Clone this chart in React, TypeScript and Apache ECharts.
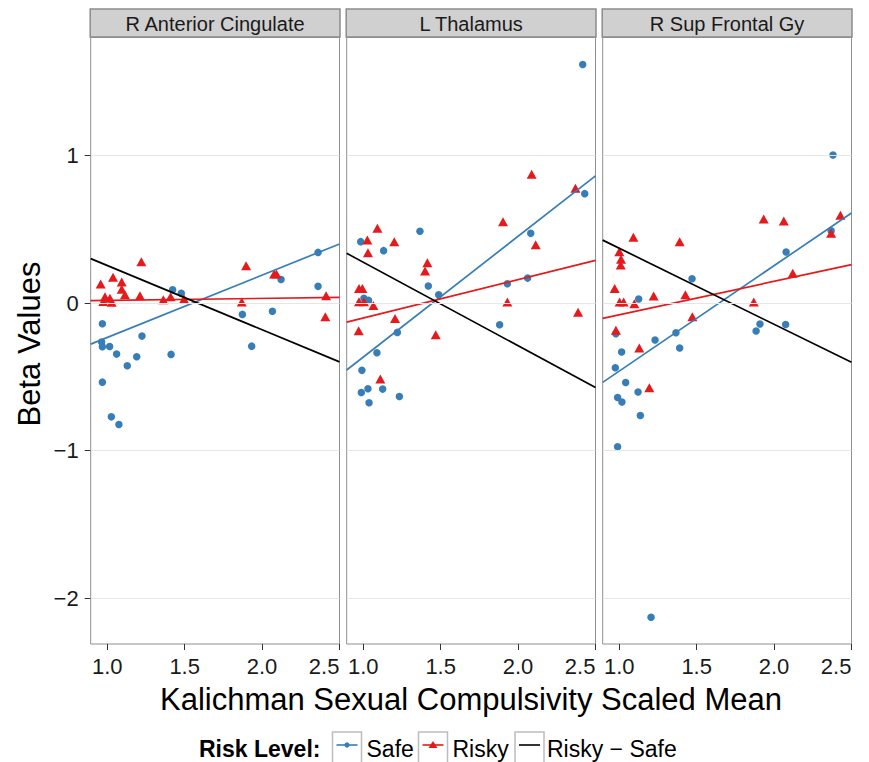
import React, { useEffect, useRef } from 'react';
import * as echarts from 'echarts';

const PANELS = ['R Anterior Cingulate', 'L Thalamus', 'R Sup Frontal Gy'];
const X_TICKS = [1.0, 1.5, 2.0, 2.5];
const Y_TICKS = [-2, -1, 0, 1];
const X_RANGE = [0.8926, 2.5006];
const Y_RANGE = [-2.31, 1.799];
const LEGEND_LABELS = ['Safe', 'Risky', 'Risky − Safe'];

// Panel 1: R Anterior Cingulate
const safeX1 = [2.362, 2.123, 2.362, 2.067, 1.873, 1.933, 1.422, 1.478, 0.968, 0.963, 0.968, 1.015, 1.06, 1.224, 1.19, 1.129, 1.412, 0.968, 1.026, 1.075];
const safeY1 = [0.343, 0.16, 0.113, -0.056, -0.077, -0.292, 0.09, 0.066, -0.14, -0.264, -0.296, -0.294, -0.346, -0.224, -0.364, -0.425, -0.348, -0.536, -0.771, -0.823];
const riskyX1 = [1.22, 1.897, 2.078, 2.093, 1.869, 2.414, 2.409, 0.957, 1.037, 1.093, 1.093, 1.114, 0.985, 1.017, 0.974, 1.028, 1.211, 1.362, 1.409, 1.496];
const riskyY1 = [0.28, 0.253, 0.197, 0.197, 0.007, 0.05, -0.093, 0.129, 0.174, 0.142, 0.093, 0.056, 0.043, 0.032, 0.011, 0.005, 0.05, 0.023, 0.043, 0.027];

// Panel 2: L Thalamus
const safeX2 = [2.418, 2.431, 2.082, 2.062, 1.931, 1.881, 1.366, 1.131, 0.983, 1.42, 1.487, 1.004, 1.034, 1.22, 1.088, 0.991, 0.987, 1.03, 1.125, 1.037, 1.233];
const safeY2 = [1.616, 0.741, 0.472, 0.169, 0.131, -0.147, 0.486, 0.355, 0.416, 0.115, 0.056, 0.032, 0.018, -0.199, -0.337, -0.456, -0.606, -0.581, -0.583, -0.676, -0.633];
const riskyX2 = [2.088, 2.371, 1.903, 2.114, 1.931, 2.388, 1.091, 1.026, 1.2, 1.03, 1.414, 1.399, 0.972, 0.994, 0.972, 1.004, 1.065, 1.205, 0.97, 1.468, 1.11];
const riskyY2 = [0.872, 0.777, 0.551, 0.395, 0.007, -0.063, 0.506, 0.427, 0.416, 0.341, 0.273, 0.217, 0.099, 0.099, 0.009, 0.009, -0.016, -0.104, -0.188, -0.215, -0.515];

// Panel 3: R Sup Frontal Gy
const safeX3 = [2.381, 2.369, 2.078, 1.47, 1.125, 1.366, 1.231, 1.39, 1.909, 1.884, 2.075, 0.978, 1.015, 0.974, 1.041, 1.121, 0.989, 1.017, 1.136, 0.989, 1.205];
const safeY3 = [1.003, 0.49, 0.346, 0.165, 0.027, -0.201, -0.251, -0.305, -0.142, -0.19, -0.145, -0.208, -0.332, -0.438, -0.538, -0.603, -0.64, -0.671, -0.762, -0.974, -2.129];
const riskyX3 = [1.933, 2.063, 2.429, 2.369, 2.121, 1.869, 1.091, 1.39, 1.0, 1.011, 1.009, 0.97, 1.002, 1.028, 1.097, 1.222, 1.427, 1.472, 0.978, 1.129, 1.194];
const riskyY3 = [0.569, 0.556, 0.594, 0.472, 0.201, 0.007, 0.445, 0.416, 0.348, 0.296, 0.258, 0.099, 0.007, 0.007, -0.005, 0.047, 0.056, -0.093, -0.185, -0.305, -0.574];

// Fitted lines: [intercept, slope] per panel
const safeFit = [[-0.655, 0.422], [-1.184, 0.818], [-1.175, 0.714]];
const riskyFit = [[0.004, 0.0137], [-0.361, 0.26], [-0.307, 0.227]];
const diffFit = [[0.689, -0.435], [0.841, -0.565], [0.886, -0.515]];

const SAFE_X = [safeX1, safeX2, safeX3];
const SAFE_Y = [safeY1, safeY2, safeY3];
const RISKY_X = [riskyX1, riskyX2, riskyX3];
const RISKY_Y = [riskyY1, riskyY2, riskyY3];

const BLUE = '#377EB8';
const RED = '#E41A1C';
const FONT = '"Liberation Sans", Arial, Helvetica, sans-serif';
const PANEL_LEFT = [90.7, 346.7, 602.7];
const PANEL_W = 248.8;
const PANEL_TOP = 37.5;
const PANEL_H = 606.5;

const zip = (xs: number[], ys: number[]) => xs.map((x, i) => [x, ys[i]]);
const fitLine = (f: number[]) => X_RANGE.map((x) => [x, f[0] + f[1] * x]);
const fmtY = (v: number) => (v < 0 ? '\u2212' + Math.abs(v) : String(v));

export default function App() {
  const ref = useRef<HTMLDivElement>(null);
  useEffect(() => {
    if (!ref.current) return;
    const chart = echarts.init(ref.current, undefined, { renderer: 'svg' });

    const grids = PANELS.map((_, i) => ({
      left: PANEL_LEFT[i],
      top: PANEL_TOP,
      width: PANEL_W,
      height: PANEL_H,
      show: true,
      borderColor: '#8f8f8f',
      borderWidth: 1,
      backgroundColor: 'transparent',
      containLabel: false,
      outerBoundsMode: 'none',
    }));

    const xAxes = PANELS.map((_, i) => ({
      type: 'value',
      gridIndex: i,
      position: 'bottom',
      min: X_RANGE[0],
      max: X_RANGE[1],
      axisLine: { show: false, onZero: false },
      splitLine: { show: false },
      axisTick: { show: true, customValues: X_TICKS, length: 6, lineStyle: { color: '#333', width: 1 } },
      axisLabel: {
        show: true,
        customValues: X_TICKS,
        formatter: (v: number) => v.toFixed(1),
        fontSize: 22,
        fontFamily: FONT,
        color: '#1a1a1a',
        margin: 11,
        alignMaxLabel: 'right',
      },
    }));

    const yAxes = PANELS.map((_, i) => ({
      type: 'value',
      gridIndex: i,
      position: 'left',
      min: Y_RANGE[0],
      max: Y_RANGE[1],
      axisLine: { show: false, onZero: false },
      splitLine: { show: false },
      axisTick: { show: i === 0, customValues: Y_TICKS, length: 6, lineStyle: { color: '#333', width: 1 } },
      axisLabel: {
        show: i === 0,
        customValues: Y_TICKS,
        formatter: fmtY,
        fontSize: 22,
        fontFamily: FONT,
        color: '#1a1a1a',
        margin: 12,
      },
    }));

    const series: any[] = [];
    PANELS.forEach((_, i) => {
      series.push({
        type: 'line',
        xAxisIndex: i,
        yAxisIndex: i,
        data: [],
        z: 0,
        silent: true,
        markLine: {
          silent: true,
          symbol: ['none', 'none'],
          label: { show: false },
          lineStyle: { color: '#e6e6e6', width: 1, type: 'solid' },
          data: Y_TICKS.map((v) => ({ yAxis: v })),
        },
      });
      series.push({
        name: 'Safe',
        type: 'scatter',
        xAxisIndex: i,
        yAxisIndex: i,
        data: zip(SAFE_X[i], SAFE_Y[i]),
        symbol: 'circle',
        symbolSize: 7.5,
        itemStyle: { color: BLUE, opacity: 1 },
        z: 3,
      });
      series.push({
        name: 'Risky',
        type: 'scatter',
        xAxisIndex: i,
        yAxisIndex: i,
        data: zip(RISKY_X[i], RISKY_Y[i]),
        symbol: 'triangle',
        symbolSize: [10, 9],
        itemStyle: { color: RED, opacity: 1 },
        z: 3,
      });
      const fits = [
        [safeFit[i], BLUE],
        [riskyFit[i], RED],
        [diffFit[i], '#000000'],
      ];
      fits.forEach(([f, c]: any) => {
        series.push({
          type: 'line',
          xAxisIndex: i,
          yAxisIndex: i,
          data: fitLine(f),
          showSymbol: false,
          symbol: 'none',
          lineStyle: { color: c, width: 1.7 },
          z: 4,
          silent: true,
        });
      });
    });

    const graphic: any[] = [];
    PANELS.forEach((name, i) => {
      graphic.push({
        type: 'rect',
        shape: { x: PANEL_LEFT[i] - 0.5, y: 9, width: PANEL_W + 1, height: 28 },
        style: { fill: '#d0d0d0', stroke: '#8c8c8c', lineWidth: 1.5 },
      });
      graphic.push({
        type: 'text',
        x: PANEL_LEFT[i] + PANEL_W / 2,
        y: 24,
        style: {
          text: name,
          font: `20px ${FONT}`,
          fill: '#1a1a1a',
          align: 'center',
          verticalAlign: 'middle',
          textAlign: 'center',
          textVerticalAlign: 'middle',
        },
      });
    });
    // Axis titles
    graphic.push({
      type: 'text',
      x: 471,
      y: 699,
      style: {
        text: 'Kalichman Sexual Compulsivity Scaled Mean',
        font: `31px ${FONT}`,
        fill: '#000',
        align: 'center',
        verticalAlign: 'middle',
        textAlign: 'center',
        textVerticalAlign: 'middle',
      },
    });
    graphic.push({
      type: 'text',
      x: 29,
      y: 344,
      rotation: Math.PI / 2,
      style: {
        text: 'Beta Values',
        font: `31px ${FONT}`,
        fill: '#000',
        align: 'center',
        verticalAlign: 'middle',
        textAlign: 'center',
        textVerticalAlign: 'middle',
      },
    });
    // Legend
    const LY = 745;
    const TY = 749;
    const textStyle = (t: string, bold = false) => ({
      text: t,
      font: `${bold ? 'bold ' : ''}23px ${FONT}`,
      fill: '#000',
      align: 'left',
      verticalAlign: 'middle',
      textAlign: 'left',
      textVerticalAlign: 'middle',
    });
    graphic.push({ type: 'text', x: 199, y: TY, style: textStyle('Risk Level:', true) });
    const boxes = [332.5, 418.5, 515];
    const textX = [366.5, 452.5, 547];
    const cols = [BLUE, RED, '#000'];
    boxes.forEach((bx, k) => {
      graphic.push({
        type: 'rect',
        shape: { x: bx, y: 732, width: 29, height: 32 },
        style: { fill: '#fff', stroke: '#bdbdbd', lineWidth: 1.5 },
      });
      graphic.push({
        type: 'line',
        shape: { x1: bx + 4, y1: LY, x2: bx + 25, y2: LY },
        style: { stroke: cols[k], lineWidth: 1.6 },
      });
      if (k === 0) {
        graphic.push({ type: 'circle', shape: { cx: bx + 14.5, cy: LY, r: 2.6 }, style: { fill: BLUE } });
      } else if (k === 1) {
        graphic.push({
          type: 'polygon',
          shape: { points: [[bx + 14.5, LY - 4], [bx + 19, LY + 3], [bx + 10, LY + 3]] },
          style: { fill: RED },
        });
      }
      graphic.push({ type: 'text', x: textX[k], y: TY, style: textStyle(LEGEND_LABELS[k]) });
    });

    chart.setOption({
      animation: false,
      backgroundColor: '#ffffff',
      grid: grids,
      xAxis: xAxes,
      yAxis: yAxes,
      series,
      graphic,
    });
    return () => chart.dispose();
  }, []);
  return (
    <div
      ref={ref}
      style={{ position: 'fixed', left: 0, top: 0, width: 869, height: 762, background: '#fff' }}
    />
  );
}
